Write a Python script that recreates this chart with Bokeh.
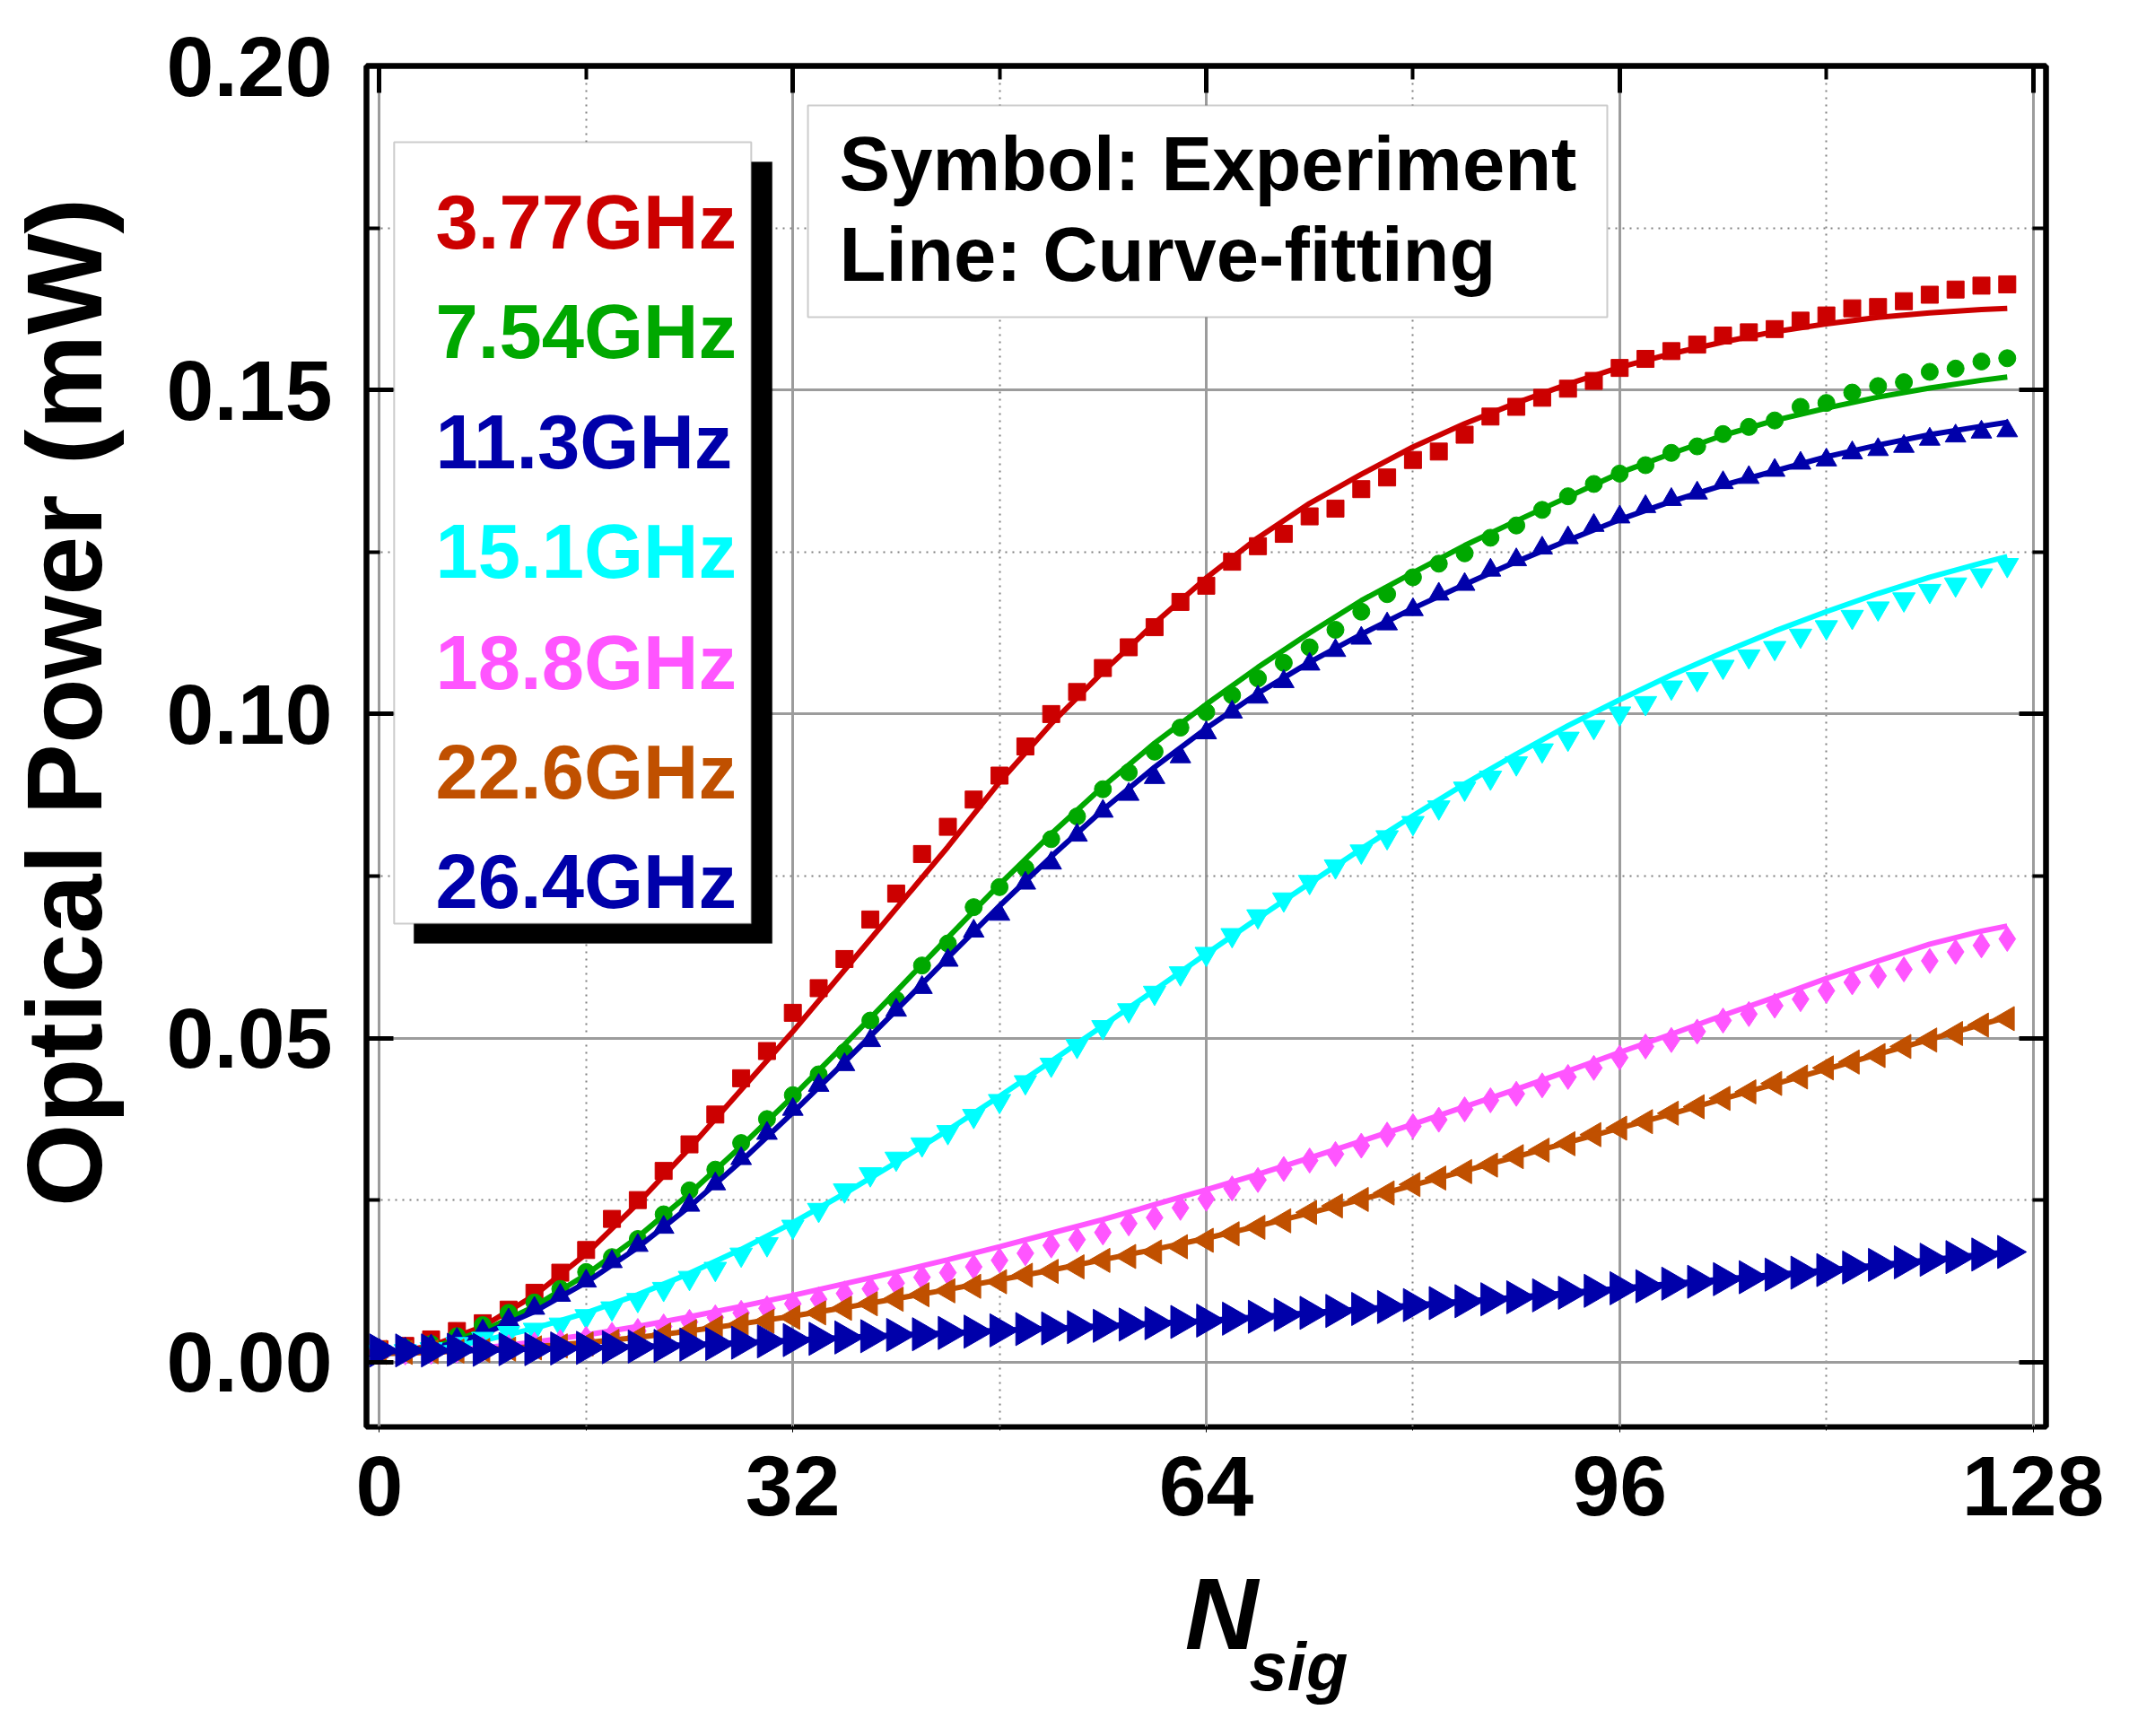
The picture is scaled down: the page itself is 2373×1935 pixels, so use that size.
import numpy as np
from bokeh.plotting import figure
from bokeh.models import Range1d, LinearAxis, FixedTicker, Label, BoxAnnotation
from bokeh.layouts import column, row
from bokeh.core.properties import value
from bokeh.embed import file_html
from bokeh.resources import INLINE

# ---------------- data ----------------
N = [0, 2, 4, 6, 8, 10, 12, 14, 16, 18, 20, 22, 24, 26, 28, 30, 32, 34, 36, 38,
     40, 42, 44, 46, 48, 50, 52, 54, 56, 58, 60, 62, 64, 66, 68, 70, 72, 74, 76, 78,
     80, 82, 84, 86, 88, 90, 92, 94, 96, 98, 100, 102, 104, 106, 108, 110, 112, 114,
     116, 118, 120, 122, 124, 126]

p377 = [0.0020, 0.0025, 0.0035, 0.0048, 0.0060, 0.0081, 0.0107, 0.0138, 0.0173, 0.0221,
        0.0250, 0.0295, 0.0336, 0.0382, 0.0438, 0.0480, 0.0539, 0.0577, 0.0622, 0.0683,
        0.0723, 0.0784, 0.0826, 0.0868, 0.0905, 0.0950, 0.1000, 0.1034, 0.1071, 0.1103,
        0.1134, 0.1173, 0.1198, 0.1235, 0.1259, 0.1278, 0.1305, 0.1317, 0.1347, 0.1365,
        0.1392, 0.1405, 0.1431, 0.1459, 0.1474, 0.1488, 0.1502, 0.1514, 0.1534, 0.1548,
        0.1560, 0.1570, 0.1584, 0.1589, 0.1594, 0.1607, 0.1615, 0.1626, 0.1628, 0.1637,
        0.1647, 0.1655, 0.1661, 0.1663]
p754 = [0.0018, 0.0022, 0.0028, 0.0040, 0.0057, 0.0076, 0.0092, 0.0113, 0.0139, 0.0162,
        0.0190, 0.0228, 0.0265, 0.0297, 0.0338, 0.0375, 0.0412, 0.0444, 0.0478, 0.0527,
        0.0559, 0.0612, 0.0646, 0.0702, 0.0733, 0.0762, 0.0807, 0.0842, 0.0884, 0.0910,
        0.0942, 0.0979, 0.1003, 0.1029, 0.1055, 0.1079, 0.1103, 0.1130, 0.1158, 0.1185,
        0.1211, 0.1232, 0.1248, 0.1272, 0.1291, 0.1315, 0.1336, 0.1355, 0.1371, 0.1384,
        0.1403, 0.1413, 0.1432, 0.1443, 0.1453, 0.1474, 0.1480, 0.1496, 0.1506, 0.1512,
        0.1528, 0.1533, 0.1544, 0.1549]
p113 = [0.0018, 0.0020, 0.0025, 0.0035, 0.0048, 0.0065, 0.0083, 0.0103, 0.0125, 0.0155,
        0.0180, 0.0208, 0.0242, 0.0275, 0.0314, 0.0353, 0.0390, 0.0427, 0.0459, 0.0496,
        0.0543, 0.0578, 0.0620, 0.0665, 0.0691, 0.0739, 0.0770, 0.0813, 0.0850, 0.0876,
        0.0902, 0.0934, 0.0971, 0.1003, 0.1026, 0.1050, 0.1077, 0.1098, 0.1117, 0.1139,
        0.1161, 0.1185, 0.1200, 0.1222, 0.1238, 0.1256, 0.1272, 0.1291, 0.1304, 0.1320,
        0.1331, 0.1341, 0.1357, 0.1365, 0.1376, 0.1387, 0.1392, 0.1403, 0.1408, 0.1413,
        0.1424, 0.1429, 0.1435, 0.1437]
p151 = [0.0016, 0.0017, 0.0020, 0.0028, 0.0036, 0.0045, 0.0050, 0.0058, 0.0071, 0.0083,
        0.0096, 0.0113, 0.0130, 0.0144, 0.0166, 0.0182, 0.0209, 0.0235, 0.0265, 0.0290,
        0.0314, 0.0336, 0.0355, 0.0380, 0.0403, 0.0432, 0.0459, 0.0488, 0.0517, 0.0543,
        0.0570, 0.0600, 0.0630, 0.0659, 0.0688, 0.0714, 0.0741, 0.0765, 0.0788, 0.0810,
        0.0832, 0.0856, 0.0885, 0.0902, 0.0924, 0.0944, 0.0962, 0.0980, 0.1001, 0.1017,
        0.1041, 0.1054, 0.1073, 0.1089, 0.1102, 0.1121, 0.1134, 0.1150, 0.1163, 0.1177,
        0.1190, 0.1200, 0.1214, 0.1230]
p188 = [0.0015, 0.0015, 0.0016, 0.0018, 0.0020, 0.0023, 0.0027, 0.0031, 0.0036, 0.0042,
        0.0048, 0.0055, 0.0062, 0.0069, 0.0076, 0.0083, 0.0090, 0.0097, 0.0106, 0.0113,
        0.0122, 0.0131, 0.0138, 0.0147, 0.0157, 0.0168, 0.0180, 0.0189, 0.0200, 0.0214,
        0.0223, 0.0238, 0.0252, 0.0268, 0.0281, 0.0298, 0.0311, 0.0321, 0.0334, 0.0351,
        0.0364, 0.0374, 0.0390, 0.0404, 0.0414, 0.0427, 0.0440, 0.0454, 0.0470, 0.0487,
        0.0497, 0.0510, 0.0527, 0.0537, 0.0550, 0.0560, 0.0573, 0.0586, 0.0596, 0.0606,
        0.0619, 0.0633, 0.0643, 0.0653]
p226 = [0.0015, 0.0015, 0.0016, 0.0017, 0.0018, 0.0020, 0.0022, 0.0025, 0.0028, 0.0032,
        0.0037, 0.0042, 0.0047, 0.0053, 0.0058, 0.0063, 0.0069, 0.0076, 0.0083, 0.0090,
        0.0097, 0.0104, 0.0110, 0.0117, 0.0124, 0.0134, 0.0140, 0.0147, 0.0157, 0.0163,
        0.0170, 0.0178, 0.0188, 0.0198, 0.0208, 0.0218, 0.0231, 0.0241, 0.0251, 0.0261,
        0.0274, 0.0284, 0.0294, 0.0304, 0.0317, 0.0327, 0.0337, 0.0351, 0.0361, 0.0371,
        0.0384, 0.0394, 0.0407, 0.0417, 0.0430, 0.0440, 0.0454, 0.0463, 0.0473, 0.0487,
        0.0497, 0.0507, 0.0520, 0.0530]
p264 = [0.0018, 0.0018, 0.0018, 0.0019, 0.0019, 0.0020, 0.0020, 0.0021, 0.0022, 0.0023,
        0.0024, 0.0025, 0.0027, 0.0028, 0.0030, 0.0032, 0.0034, 0.0036, 0.0038, 0.0040,
        0.0042, 0.0043, 0.0045, 0.0047, 0.0049, 0.0051, 0.0052, 0.0054, 0.0056, 0.0058,
        0.0060, 0.0062, 0.0064, 0.0067, 0.0070, 0.0073, 0.0076, 0.0079, 0.0082, 0.0085,
        0.0088, 0.0091, 0.0094, 0.0097, 0.0100, 0.0103, 0.0107, 0.0110, 0.0114, 0.0117,
        0.0121, 0.0124, 0.0128, 0.0131, 0.0135, 0.0138, 0.0142, 0.0146, 0.0150, 0.0154,
        0.0158, 0.0162, 0.0166, 0.0170]

# curve-fitting lines
N_fit = [0, 4, 8, 12, 16, 20, 24, 28, 32, 36, 40, 44, 48, 52, 56, 60, 64, 68, 72, 76,
         80, 84, 88, 92, 96, 100, 104, 108, 112, 116, 120, 124, 126]
f377 = [0.0012, 0.0025, 0.0055, 0.0103, 0.0167, 0.0245, 0.0330, 0.0420, 0.0510, 0.0605,
        0.0700, 0.0795, 0.0895, 0.0985, 0.1065, 0.1140, 0.1210, 0.1272, 0.1325, 0.1370,
        0.1412, 0.1448, 0.1480, 0.1509, 0.1535, 0.1556, 0.1574, 0.1590, 0.1602, 0.1612,
        0.1619, 0.1624, 0.1626]
f754 = [0.0012, 0.0022, 0.0048, 0.0086, 0.0135, 0.0193, 0.0260, 0.0333, 0.0410, 0.0490,
        0.0572, 0.0655, 0.0737, 0.0815, 0.0888, 0.0955, 0.1015, 0.1072, 0.1125, 0.1175,
        0.1218, 0.1260, 0.1298, 0.1335, 0.1372, 0.1402, 0.1430, 0.1453, 0.1472, 0.1489,
        0.1503, 0.1515, 0.1520]
f113 = [0.0012, 0.0020, 0.0043, 0.0078, 0.0123, 0.0177, 0.0240, 0.0310, 0.0385, 0.0463,
        0.0543, 0.0624, 0.0704, 0.0780, 0.0852, 0.0918, 0.0978, 0.1032, 0.1080, 0.1123,
        0.1163, 0.1200, 0.1235, 0.1268, 0.1300, 0.1328, 0.1353, 0.1375, 0.1397, 0.1415,
        0.1431, 0.1444, 0.1450]
f151 = [0.0012, 0.0018, 0.0033, 0.0052, 0.0076, 0.0104, 0.0137, 0.0174, 0.0215, 0.0260,
        0.0308, 0.0358, 0.0410, 0.0464, 0.0519, 0.0574, 0.0630, 0.0685, 0.0739, 0.0792,
        0.0843, 0.0892, 0.0938, 0.0982, 0.1022, 0.1060, 0.1095, 0.1128, 0.1158, 0.1186,
        0.1211, 0.1233, 0.1243]
f188 = [0.0013, 0.0016, 0.0022, 0.0031, 0.0042, 0.0055, 0.0070, 0.0086, 0.0103, 0.0121,
        0.0139, 0.0158, 0.0178, 0.0199, 0.0220, 0.0243, 0.0266, 0.0290, 0.0315, 0.0341,
        0.0367, 0.0394, 0.0421, 0.0449, 0.0478, 0.0506, 0.0535, 0.0563, 0.0592, 0.0619,
        0.0645, 0.0665, 0.0673]
f226 = [0.0013, 0.0015, 0.0019, 0.0024, 0.0030, 0.0038, 0.0048, 0.0059, 0.0071, 0.0084,
        0.0098, 0.0112, 0.0127, 0.0142, 0.0158, 0.0174, 0.0191, 0.0210, 0.0230, 0.0251,
        0.0273, 0.0295, 0.0317, 0.0339, 0.0361, 0.0383, 0.0406, 0.0429, 0.0452, 0.0475,
        0.0498, 0.0521, 0.0532]
f264 = [0.0016, 0.0017, 0.0018, 0.0020, 0.0022, 0.0024, 0.0027, 0.0030, 0.0034, 0.0038,
        0.0042, 0.0045, 0.0049, 0.0052, 0.0056, 0.0060, 0.0064, 0.0070, 0.0076, 0.0082,
        0.0088, 0.0094, 0.0100, 0.0107, 0.0114, 0.0121, 0.0128, 0.0135, 0.0142, 0.0150,
        0.0158, 0.0166, 0.0170]

freq_labels = ["3.77GHz", "7.54GHz", "11.3GHz", "15.1GHz", "18.8GHz", "22.6GHz", "26.4GHz"]
note_lines = ["Symbol: Experiment", "Line: Curve-fitting"]
y_title = "Optical Power (mW)"
x_title_main = "N"
x_title_sub = "sig"
x_ticks = [0, 32, 64, 96, 128]
x_minor = [16, 48, 80, 112]
x_tick_labels = ["0", "32", "64", "96", "128"]
y_ticks = [0.0, 0.05, 0.10, 0.15, 0.20]
y_minor = [0.025, 0.075, 0.125, 0.175]
y_tick_labels = ["0.00", "0.05", "0.10", "0.15", "0.20"]

# ---------------- styles ----------------
colors = ["#CC0000", "#00A800", "#0000AA", "#00FFFF", "#FF55FF", "#C05000", "#0000AA"]
markers = ["square", "circle", "triangle", "inverted_triangle", "diamond", "triangle", "triangle"]
angles = [0, 0, 0, 0, 0, np.pi / 2, -np.pi / 2]
sizes = [19, 19, 23, 25, 28, 27, 37]
FONT = "Liberation Sans"
LEFT_W = 150          # width of the y-title strip
MAIN_H = 1730         # height of the main figure
BOTTOM_H = 1935 - MAIN_H  # height of the x-title strip

# ---------------- main plot ----------------
p = figure(width=2373 - LEFT_W, height=MAIN_H, output_backend="svg", toolbar_location=None,
           x_range=Range1d(-1, 129), y_range=Range1d(-0.01, 0.20),
           min_border_left=408 - LEFT_W, min_border_right=93,
           min_border_top=73, min_border_bottom=MAIN_H - 1590)
p.background_fill_color = "white"
p.border_fill_color = "white"
p.outline_line_color = "black"
p.outline_line_width = 6

xt = FixedTicker(ticks=x_ticks, minor_ticks=x_minor)
yt = FixedTicker(ticks=y_ticks, minor_ticks=y_minor)

for ax in (p.xaxis[0], p.yaxis[0]):
    ax.major_label_text_font = FONT
    ax.major_label_text_font_size = "95px"
    ax.major_label_text_font_style = "bold"
    ax.major_label_text_color = "black"

p.xaxis[0].ticker = xt
p.yaxis[0].ticker = yt
p.xaxis[0].major_label_overrides = {t: l for t, l in zip(x_ticks, x_tick_labels)}
p.yaxis[0].major_label_overrides = {t: l for t, l in zip(y_ticks, y_tick_labels)}
p.xaxis[0].major_label_standoff = 26
p.yaxis[0].major_label_standoff = 38

ax_r = LinearAxis(ticker=yt)
ax_t = LinearAxis(ticker=xt)
p.add_layout(ax_r, "right")
p.add_layout(ax_t, "above")
for ax in (ax_r, ax_t):
    ax.major_label_text_font_size = "1px"
    ax.major_label_text_color = None
    ax.major_label_standoff = 0

for ax in (p.xaxis[0], p.yaxis[0], ax_r, ax_t):
    ax.axis_line_width = 6
    ax.axis_line_color = "black"
    ax.major_tick_in = 30
    ax.major_tick_out = 0
    ax.minor_tick_in = 15
    ax.minor_tick_out = 0
    ax.major_tick_line_width = 5
    ax.minor_tick_line_width = 4
    ax.major_tick_line_color = "black"
    ax.minor_tick_line_color = "black"

p.xgrid.ticker = xt
p.ygrid.ticker = yt
p.grid.grid_line_color = "#9c9c9c"
p.grid.grid_line_width = 3
p.grid.minor_grid_line_color = "#808080"
p.grid.minor_grid_line_width = 2
p.grid.minor_grid_line_dash = "2 6"

series = [p377, p754, p113, p151, p188, p226, p264]
fits = [f377, f754, f113, f151, f188, f226, f264]
for ys, fy, c, m, a, s in zip(series, fits, colors, markers, angles, sizes):
    p.scatter(N, ys, marker=m, angle=a, size=s, fill_color=c, line_color=c, line_width=1)
    p.line(N_fit, fy, line_color=c, line_width=6)

# legend box with shadow
p.add_layout(BoxAnnotation(left=2.67, right=30.4, top=0.18519, bottom=0.06462,
                           fill_color="black", fill_alpha=1.0, line_color="black", line_width=1))
p.add_layout(BoxAnnotation(left=1.14, right=28.78, top=0.18823, bottom=0.06766,
                           fill_color="white", fill_alpha=1.0, line_color="#555555", line_width=2))
legend_y = [0.175913, 0.159024, 0.141997, 0.125109, 0.107943, 0.091055, 0.074166]
for txt, c, ly in zip(freq_labels, colors, legend_y):
    p.add_layout(Label(x=4.35, y=ly, text=txt, text_color=c, text_font=FONT,
                       text_font_size="85px", text_font_style="bold",
                       text_align="left", text_baseline="middle"))

# note box
p.add_layout(BoxAnnotation(left=33.17, right=95.04, top=0.19391, bottom=0.16124,
                           fill_color="white", fill_alpha=1.0, line_color="#555555", line_width=2))
for txt, ly in zip(note_lines, [0.184911, 0.17093]):
    p.add_layout(Label(x=35.6, y=ly, text=txt, text_color="black", text_font=FONT,
                       text_font_size="85px", text_font_style="bold",
                       text_align="left", text_baseline="middle"))

# ---------------- y title strip (pixel coordinates) ----------------
pl = figure(width=LEFT_W, height=MAIN_H, output_backend="svg", toolbar_location=None,
            x_range=Range1d(0, LEFT_W), y_range=Range1d(0, MAIN_H),
            x_axis_type=None, y_axis_type=None,
            min_border_left=0, min_border_right=0, min_border_top=0, min_border_bottom=0)
pl.outline_line_color = None
pl.background_fill_color = "white"
pl.border_fill_color = "white"
pl.text(x=[70.5], y=[MAIN_H - 809], text=[y_title], angle=np.pi / 2,
        text_font=value(FONT), text_font_size=value("119px"), text_font_style="bold",
        text_color="black", text_align="center", text_baseline="middle")

# ---------------- x title strip (pixel coordinates) ----------------
pb = figure(width=2373, height=BOTTOM_H, output_backend="svg", toolbar_location=None,
            x_range=Range1d(0, 2373), y_range=Range1d(0, BOTTOM_H),
            x_axis_type=None, y_axis_type=None,
            min_border_left=0, min_border_right=0, min_border_top=0, min_border_bottom=0)
pb.outline_line_color = None
pb.background_fill_color = "white"
pb.border_fill_color = "white"
pb.text(x=[1361], y=[1935 - 1798.5], text=[x_title_main],
        text_font=value(FONT), text_font_size=value("113px"), text_font_style="bold italic",
        text_color="black", text_align="center", text_baseline="middle")
pb.text(x=[1392], y=[1935 - 1857], text=[x_title_sub],
        text_font=value(FONT), text_font_size=value("76px"), text_font_style="bold italic",
        text_color="black", text_align="left", text_baseline="middle")

layout = column(row(pl, p, spacing=0), pb, spacing=0)
open("out.html", "w").write(file_html(layout, INLINE))
